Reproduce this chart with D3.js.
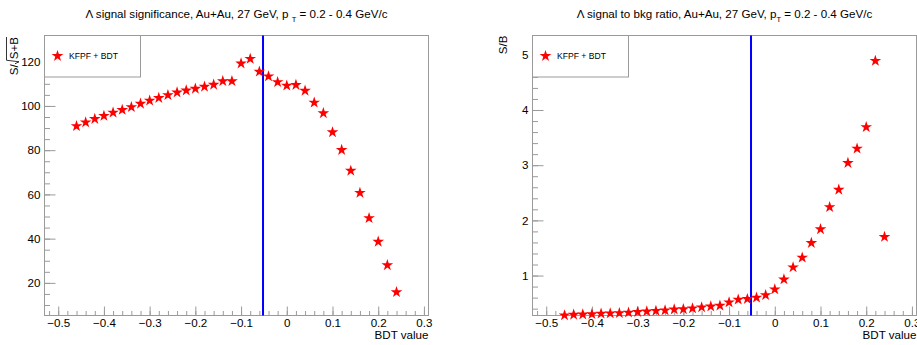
<!DOCTYPE html>
<html><head><meta charset="utf-8">
<script src="https://cdn.jsdelivr.net/npm/d3@7"></script>
<style>
body{margin:0;background:#fff;}
svg{display:block;}
text{font-family:"Liberation Sans",Arial,Helvetica,sans-serif;fill:#000;}
</style>
</head><body>
<svg id="c" width="917" height="345"></svg>
<script>
// ---- data ----
const bdtValues = [-0.46,-0.44,-0.42,-0.40,-0.38,-0.36,-0.34,-0.32,-0.30,-0.28,-0.26,-0.24,-0.22,-0.20,-0.18,-0.16,-0.14,-0.12,-0.10,-0.08,-0.06,-0.04,-0.02,0.00,0.02,0.04,0.06,0.08,0.10,0.12,0.14,0.16,0.18,0.20,0.22,0.24];
const significance = [90.9,92.6,94.1,95.5,97.0,98.2,99.5,101.0,102.4,103.6,104.9,106.1,107.0,107.8,108.7,109.6,111.2,111.2,119.2,121.3,115.5,113.4,110.8,109.2,109.5,106.9,101.5,96.7,88.1,80.1,70.7,60.7,49.3,38.6,28.0,15.8];
const sigToBkg = [0.28,0.29,0.295,0.30,0.31,0.315,0.32,0.33,0.34,0.35,0.36,0.37,0.385,0.39,0.405,0.425,0.44,0.455,0.515,0.565,0.575,0.60,0.645,0.75,0.93,1.15,1.325,1.59,1.84,2.24,2.555,3.04,3.30,3.69,4.89,1.70];
const xTicks = [-0.5,-0.4,-0.3,-0.2,-0.1,0,0.1,0.2,0.3];
const sigTicks = [20,40,60,80,100,120];
const sbTicks = [1,2,3,4,5];
const cutValue = -0.052;
const legendLabel = "KFPF + BDT";
const xTitle = "BDT value";
const titleSig = ["\u039B signal significance, Au+Au, 27 GeV, p ", "T", " = 0.2 - 0.4 GeV/c"];
const titleSB  = ["\u039B signal to bkg ratio, Au+Au, 27 GeV, p", "T", " = 0.2 - 0.4 GeV/c"];

const svg = d3.select("#c");
const FONT = 11.6;
const frameColor = "#9a9a9a";
const star = d3.symbol().type(d3.symbolStar).size(42);

function panel(cfg){
  const top = 35.5, bottom = 315.5;
  const x = d3.scaleLinear().domain([-0.53, 0.31]).range([cfg.left, cfg.right]);
  const y = d3.scaleLinear().domain(cfg.yDomain).range([bottom, top]);
  const g = svg.append("g");

  g.append("rect").attr("x", cfg.left).attr("y", top)
    .attr("width", cfg.right - cfg.left).attr("height", bottom - top)
    .attr("fill", "none").attr("stroke", frameColor).attr("stroke-width", 1);

  const xMinor = d3.range(-0.52, 0.305, 0.02).map(v => +v.toFixed(2));
  const styleAxis = a => { a.select(".domain").remove(); a.selectAll("line").attr("stroke", frameColor); };

  g.append("g").attr("transform", `translate(0,${bottom})`)
    .call(d3.axisBottom(x).tickValues(xMinor).tickSize(-4.5).tickFormat(""))
    .call(styleAxis);
  g.append("g").attr("transform", `translate(0,${bottom})`)
    .call(d3.axisBottom(x).tickValues(xTicks).tickSize(-9).tickPadding(3.5)
      .tickFormat(d => d === 0 ? "0" : d3.format(".1f")(d)))
    .call(styleAxis)
    .call(a => a.selectAll("text").attr("font-size", FONT).attr("fill", "#000")
      .style("font-family", '"Liberation Sans",Arial,sans-serif'));

  const yMinor = d3.range(cfg.minorStart, cfg.yDomain[1], cfg.minorStep).map(v => +v.toFixed(3));
  g.append("g").attr("transform", `translate(${cfg.left},0)`)
    .call(d3.axisLeft(y).tickValues(yMinor).tickSize(-5.5).tickFormat(""))
    .call(styleAxis);
  g.append("g").attr("transform", `translate(${cfg.left},0)`)
    .call(d3.axisLeft(y).tickValues(cfg.yTicks).tickSize(-11).tickPadding(4).tickFormat(d3.format("d")))
    .call(styleAxis)
    .call(a => a.selectAll("text").attr("font-size", FONT).attr("fill", "#000")
      .style("font-family", '"Liberation Sans",Arial,sans-serif'));

  g.append("line").attr("x1", x(cutValue)).attr("x2", x(cutValue))
    .attr("y1", top).attr("y2", bottom)
    .attr("stroke", "#0000ff").attr("stroke-width", 2);

  g.append("g").selectAll("path").data(bdtValues.map((b, i) => [b, cfg.values[i]]))
    .join("path")
    .attr("d", star)
    .attr("transform", d => `translate(${x(d[0])},${y(d[1])})`)
    .attr("fill", "#ff0000");

  g.append("rect").attr("x", cfg.left).attr("y", top).attr("width", 96).attr("height", 41.5)
    .attr("fill", "#fff").attr("stroke", frameColor);
  g.append("path").attr("d", star).attr("transform", `translate(${cfg.left + 13},${top + 20.5})`).attr("fill", "#ff0000");
  g.append("text").attr("x", cfg.left + 24.5).attr("y", top + 23.5).attr("font-size", 8.6).text(legendLabel);

  const t = g.append("text").attr("x", (cfg.left + cfg.right) / 2).attr("y", 18)
    .attr("text-anchor", "middle").attr("font-size", 11.6);
  t.append("tspan").text(cfg.title[0]);
  t.append("tspan").attr("dy", 4).attr("font-size", 7.5).text(cfg.title[1]);
  t.append("tspan").attr("dy", -4).text(cfg.title[2]);

  g.append("text").attr("x", cfg.right).attr("y", 339).attr("text-anchor", "end")
    .attr("font-size", FONT).text(xTitle);

  cfg.yTitle(g);
}

panel({
  left: 44.5, right: 428.5,
  yDomain: [5.25, 131.85], yTicks: sigTicks, minorStart: 10, minorStep: 5,
  values: significance, title: titleSig,
  yTitle: g => {
    const yl = g.append("g").attr("transform", "translate(18,37) rotate(-90)");
    const t3 = yl.append("text").attr("x", 0).attr("y", 0).attr("text-anchor", "end").attr("font-size", FONT).text("S+B");
    const w = t3.node().getComputedTextLength();
    yl.append("path")
      .attr("d", `M0,-11.5 L${-w - 1},-11.5 L${-w - 2.5},1 L${-w - 4.5},-3`)
      .attr("fill", "none").attr("stroke", "#000").attr("stroke-width", 0.8);
    yl.append("text").attr("x", -w - 5).attr("y", 0).attr("text-anchor", "end").attr("font-size", FONT).text("S/");
  }
});

panel({
  left: 532.5, right: 916.5,
  yDomain: [0.276, 5.35], yTicks: sbTicks, minorStart: 0.4, minorStep: 0.2,
  values: sigToBkg, title: titleSB,
  yTitle: g => {
    g.append("text").attr("transform", "translate(506.5,35.5) rotate(-90)")
      .attr("text-anchor", "end").attr("font-size", FONT).text("S/B");
  }
});
</script>
</body></html>
